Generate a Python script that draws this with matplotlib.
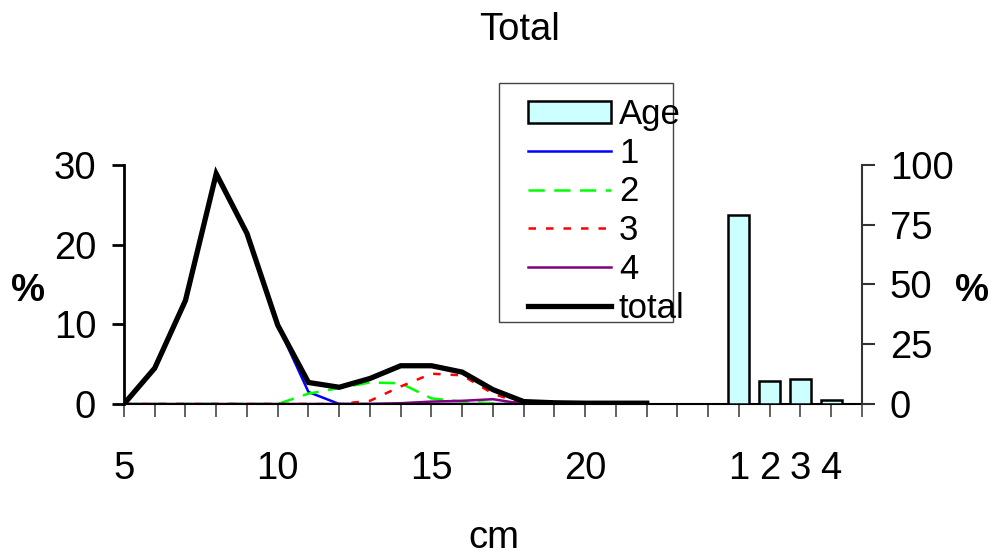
import matplotlib
matplotlib.use("Agg")
import matplotlib.pyplot as plt
from matplotlib.patches import Patch, Rectangle

plt.rcParams['font.family'] = ['Liberation Sans', 'DejaVu Sans']

# ---- data ----
length_cm = [5, 6, 7, 8, 9, 10, 11, 12, 13, 14, 15, 16, 17, 18]
age1 = [0, 4.5, 13.0, 28.9, 21.4, 9.9, 1.5, 0, 0, 0, 0, 0, 0, 0]
age2 = [0, 0, 0, 0, 0, 0, 1.3, 2.0, 2.7, 2.6, 0.7, 0.3, 0.1, 0]
age3 = [0, 0, 0, 0, 0, 0, 0, 0, 0.4, 2.2, 3.8, 3.6, 1.3, 0]
age4 = [0, 0, 0, 0, 0, 0, 0, 0, 0, 0.1, 0.3, 0.4, 0.6, 0]

total_cm = [5, 6, 7, 8, 9, 10, 11, 12, 13, 14, 15, 16, 17, 18, 19, 20, 21, 22]
total = [0, 4.5, 13.0, 28.9, 21.4, 9.9, 2.7, 2.1, 3.2, 4.8, 4.8, 4.0, 1.8, 0.3, 0.15, 0.1, 0.1, 0.1]

age_labels = ['1', '2', '3', '4']
age_pos = [25, 26, 27, 28]
age_pct = [79, 9.6, 10.6, 1.7]

xtick_pos = list(range(5, 30))
xtick_lab = ['5', '', '', '', '', '10', '', '', '', '', '15', '', '', '', '', '20',
             '', '', '', '', '1', '2', '3', '4', '']

FS = 27.5
W, H = 999, 556

fig = plt.figure(figsize=(9.99, 5.56), dpi=100)
ax = fig.add_axes([0.1241, 0.2734, 0.7387, 0.4299])
ax2 = ax.twinx()

l1, = ax.plot(length_cm, age1, color='#0000ff', lw=1.8)
l2, = ax.plot(length_cm, age2, color='#00ff00', lw=1.8, dashes=(6.5, 3.8))
l3, = ax.plot(length_cm, age3, color='#ff0000', lw=1.8, dashes=(3, 4))
l4, = ax.plot(length_cm, age4, color='#800080', lw=1.8)
lt, = ax.plot(total_cm, total, color='black', lw=3.8, solid_joinstyle='miter')

ax2.bar(age_pos, age_pct, width=0.68, color='#ccffff', edgecolor='black', lw=1.8)

ax.set_xlim(5, 29)
ax.set_ylim(0, 30)
ax2.set_ylim(0, 100)

ax.set_xticks(xtick_pos)
ax.set_xticklabels(xtick_lab)
ax.set_yticks([0, 10, 20, 30])
ax2.set_yticks([0, 25, 50, 75, 100])

for a in (ax, ax2):
    a.spines['top'].set_visible(False)
ax.spines['right'].set_visible(False)
ax2.spines['left'].set_visible(False)
ax2.spines['bottom'].set_visible(False)
ax.spines['left'].set_linewidth(2.0)
ax.spines['left'].set_color('black')
ax.spines['bottom'].set_linewidth(1.5)
ax2.spines['right'].set_linewidth(1.5)
ax2.spines['right'].set_color('#333333')

ax.tick_params(axis='x', direction='out', length=9, width=1.3, color='#555555',
               labelsize=FS, pad=25)
ax.tick_params(axis='y', direction='out', length=9, width=2.0, color='black',
               labelsize=FS, pad=11)
ax2.tick_params(axis='y', direction='out', length=9, width=1.5, color='#333333',
                labelsize=FS, pad=11)

fig.text(0.52, 0.946, 'Total', ha='center', va='center', fontsize=FS)
fig.text(0.028, 0.476, '%', ha='center', va='center', fontsize=FS, fontweight='bold')
fig.text(0.973, 0.476, '%', ha='center', va='center', fontsize=FS, fontweight='bold')
fig.text(0.494, 0.033, 'cm', ha='center', va='center', fontsize=FS)

# legend frame drawn as a figure rectangle
fig.patches.append(Rectangle((499 / W, 1 - 322 / H), (673 - 499) / W, (322 - 83) / H,
                             transform=fig.transFigure, facecolor='white',
                             edgecolor='#444444', lw=1.0, zorder=0))

handles = [Patch(facecolor='#ccffff', edgecolor='black', lw=1.8), l1, l2, l3, l4, lt]
labels = ['Age', '1', '2', '3', '4', 'total']
leg = fig.legend(handles, labels, loc='upper left',
                 bbox_to_anchor=(528 / W, 1 - 98 / H),
                 bbox_transform=fig.transFigure, fontsize=25, frameon=False,
                 handlelength=2.4, handleheight=0.62, handletextpad=0.22,
                 labelspacing=0.165, borderpad=0, borderaxespad=0)

fig.savefig('out.png', dpi=100)
